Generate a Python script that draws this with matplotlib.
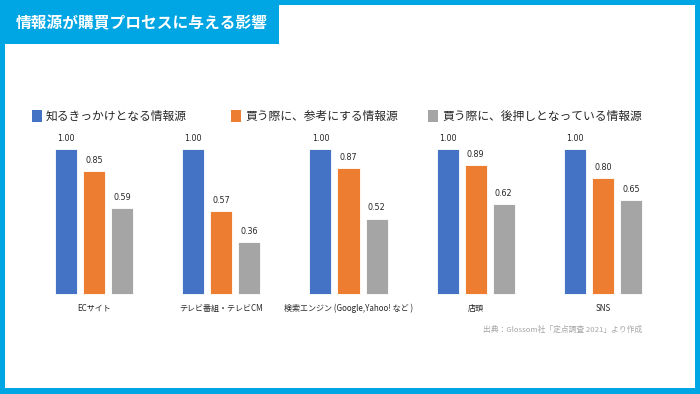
import matplotlib
matplotlib.use("Agg")
import matplotlib.pyplot as plt
from matplotlib.patches import Rectangle
import numpy as np

plt.rcParams['font.family'] = ['Noto Sans CJK JP', 'DejaVu Sans']

title = "情報源が購買プロセスに与える影響"
categories = ["ECサイト", "テレビ番組・テレビCM", "検索エンジン (Google,Yahoo! など )", "店頭", "SNS"]
series_names = ["知るきっかけとなる情報源", "買う際に、参考にする情報源", "買う際に、後押しとなっている情報源"]
awareness = [1.00, 1.00, 1.00, 1.00, 1.00]
reference = [0.85, 0.57, 0.87, 0.89, 0.80]
push = [0.59, 0.36, 0.52, 0.62, 0.65]
source_text = "出典：Glossom社「定点調査 2021」より作成"

colors = ["#4472C4", "#ED7D31", "#A5A5A5"]
frame_blue = "#00A5E3"

W, H = 700, 394
fig = plt.figure(figsize=(7.0, 3.94), dpi=100)
fig.patch.set_facecolor(frame_blue)

def px_rect(x0, y0_top, x1, y1_top, color, z=-10):
    fig.patches.append(Rectangle((x0 / W, 1 - y1_top / H), (x1 - x0) / W, (y1_top - y0_top) / H,
                                 transform=fig.transFigure, facecolor=color, edgecolor='none', zorder=z))

# white inner panel
px_rect(5, 5, 695, 388, "white", -10)
# title box
px_rect(0, 0, 279, 44, frame_blue, -9)
fig.text(16 / W, 1 - 23 / H, title, color="white", fontsize=11.3, fontweight="bold",
         ha="left", va="center", zorder=5)

# axes: baseline at y=294, 1.0 at y=149 ; x from 30.5 to 666.5
ax = fig.add_axes([30.5 / W, 1 - 294 / H, 636 / W, 145 / H])
ax.set_zorder(2)
ax.set_facecolor('none')
ax.set_xlim(-0.5, len(categories) - 0.5)
ax.set_ylim(0, 1.0)
for s in ax.spines.values():
    s.set_visible(False)
ax.set_xticks([])
ax.set_yticks([])

x = np.arange(len(categories))
bw = 22 / 127
step = 28 / 127
data = [awareness, reference, push]
for i, (vals, c) in enumerate(zip(data, colors)):
    xs = x + (i - 1) * step
    ax.bar(xs, vals, width=bw, color=c, edgecolor="white", linewidth=0.6, clip_on=False)
    for xi, v in zip(xs, vals):
        ax.annotate(f"{v:.2f}", (xi, v), xytext=(0, 4.5), textcoords="offset points",
                    ha="center", va="bottom", fontsize=5.8, color="#262626",
                    family=['DejaVu Sans'], annotation_clip=False)

for xi, cat in zip(x, categories):
    ax.text(xi, -0.1, cat, ha="center", va="center", fontsize=5.8, color="#262626",
            transform=ax.transData, clip_on=False)

# legend
legend_x = [32, 231, 428]
for lx, name, c in zip(legend_x, series_names, colors):
    fig.patches.append(Rectangle((lx / W, 1 - 122 / H), 10 / W, 12 / H,
                                 transform=fig.transFigure, facecolor=c, edgecolor='none', zorder=3))
    fig.text((lx + 14) / W, 1 - 116 / H, name, fontsize=8.5, color="#262626",
             ha="left", va="center", zorder=5)

fig.text(642 / W, 1 - 330 / H, source_text, fontsize=5.6, color="#A6A6A6",
         ha="right", va="center", zorder=5)

fig.savefig("out.png", dpi=100, facecolor=fig.get_facecolor())
